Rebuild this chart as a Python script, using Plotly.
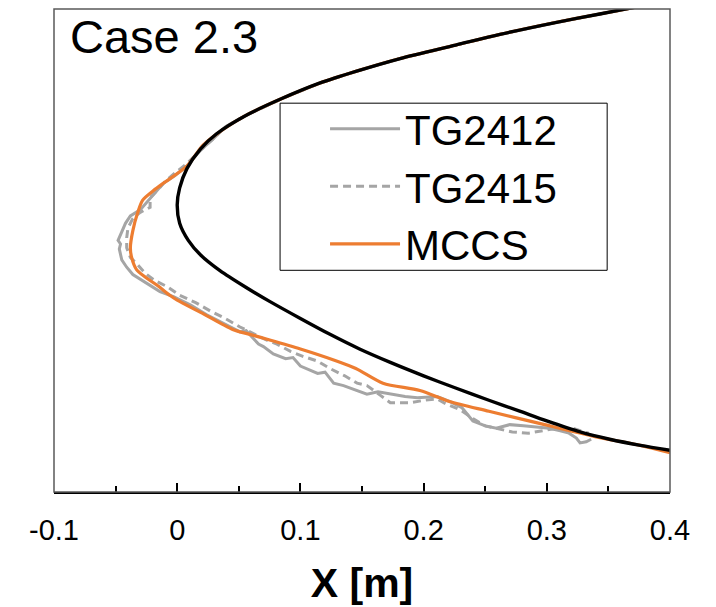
import plotly.graph_objects as go

# Black reference contour
body_x = [0.400, 0.375, 0.343, 0.307, 0.262, 0.226, 0.181, 0.145, 0.116, 0.084, 0.055,
          0.032, 0.019, 0.008, 0.002, 0.000, 0.002, 0.009, 0.019, 0.035, 0.055, 0.075,
          0.100, 0.124, 0.148, 0.173, 0.200, 0.226, 0.253, 0.278, 0.300, 0.327, 0.351,
          0.376, 0.400]
body_y = [0.1673, 0.1627, 0.1565, 0.1495, 0.1398, 0.1310, 0.1200, 0.1095, 0.1000, 0.0868, 0.0730,
          0.0584, 0.046, 0.030, 0.014, 0.000, -0.015, -0.029, -0.041, -0.054, -0.067, -0.079,
          -0.093, -0.106, -0.118, -0.129, -0.140, -0.150, -0.160, -0.169, -0.177, -0.186, -0.192,
          -0.197, -0.201]

# MCCS
mccs_x = [0.400, 0.375, 0.343, 0.307, 0.262, 0.226, 0.181, 0.145, 0.116, 0.084, 0.055,
          0.036, 0.021, 0.008, -0.011, -0.019, -0.028, -0.032, -0.036, -0.038, -0.037, -0.033,
          -0.026, -0.016, -0.006, 0.000, 0.019, 0.045, 0.059, 0.073, 0.100, 0.127, 0.145,
          0.167, 0.197, 0.221, 0.253, 0.294, 0.340, 0.376, 0.400]
mccs_y = [0.1673, 0.1627, 0.1565, 0.1495, 0.1398, 0.1310, 0.1200, 0.1095, 0.1000, 0.0868, 0.0730,
          0.061, 0.049, 0.032, 0.018, 0.012, 0.004, -0.006, -0.021, -0.035, -0.043, -0.053,
          -0.059, -0.066, -0.074, -0.078, -0.088, -0.102, -0.106, -0.110, -0.118, -0.127, -0.134,
          -0.146, -0.152, -0.161, -0.169, -0.179, -0.190, -0.197, -0.203]

# TG2412 (solid gray)
tg12_x = [0.400, 0.375, 0.343, 0.307, 0.262, 0.226, 0.181, 0.145, 0.116, 0.084, 0.055,
          0.039, 0.029, 0.019, 0.008, -0.002, -0.011,
          -0.018, -0.024, -0.030, -0.038, -0.042, -0.045, -0.048, -0.046, -0.047, -0.045, -0.041,
          -0.036, -0.028, -0.022, -0.014, -0.003, 0.011, 0.024, 0.039, 0.051, 0.056, 0.062, 0.066,
          0.070, 0.078, 0.088, 0.094, 0.100, 0.114, 0.120, 0.127, 0.135, 0.145, 0.154, 0.163,
          0.173, 0.185, 0.195, 0.211, 0.221, 0.231, 0.240, 0.250, 0.259, 0.270, 0.281, 0.292,
          0.302, 0.311, 0.318, 0.324, 0.327, 0.332, 0.336]
tg12_y = [0.1673, 0.1627, 0.1565, 0.1495, 0.1398, 0.1310, 0.1200, 0.1095, 0.1000, 0.0868, 0.0730,
          0.064, 0.054, 0.045, 0.032, 0.024, 0.018,
          0.010, 0.003, -0.004, -0.009, -0.015, -0.022, -0.029, -0.032, -0.036, -0.045, -0.051,
          -0.057, -0.062, -0.066, -0.071, -0.075, -0.082, -0.090, -0.098, -0.104, -0.103, -0.110, -0.114,
          -0.116, -0.122, -0.126, -0.125, -0.132, -0.138, -0.137, -0.146, -0.148, -0.152, -0.155, -0.153,
          -0.155, -0.157, -0.158, -0.157, -0.161, -0.166, -0.177, -0.181, -0.183, -0.180, -0.181, -0.182,
          -0.183, -0.185, -0.187, -0.191, -0.195, -0.194, -0.192]

# TG2415 (dashed gray)
tg15_x = [0.400, 0.375, 0.343, 0.307, 0.262, 0.226, 0.181, 0.145, 0.116, 0.084, 0.055,
          0.039, 0.029, 0.019, 0.008, -0.002, -0.010,
          -0.016, -0.022, -0.022, -0.030, -0.036, -0.040, -0.041, -0.041, -0.038, -0.032, -0.026,
          -0.018, -0.008, 0.002, 0.015, 0.027, 0.039, 0.051, 0.063, 0.071, 0.081, 0.092, 0.102,
          0.114, 0.124, 0.136, 0.146, 0.154, 0.165, 0.173, 0.181, 0.189, 0.201, 0.211, 0.218,
          0.230, 0.240, 0.250, 0.259, 0.272, 0.285, 0.298, 0.308, 0.321, 0.334]
tg15_y = [0.1673, 0.1627, 0.1565, 0.1495, 0.1398, 0.1310, 0.1200, 0.1095, 0.1000, 0.0868, 0.0730,
          0.064, 0.054, 0.045, 0.034, 0.026, 0.019,
          0.012, 0.006, -0.002, -0.006, -0.011, -0.019, -0.027, -0.035, -0.043, -0.049, -0.056,
          -0.062, -0.067, -0.074, -0.080, -0.087, -0.093, -0.100, -0.106, -0.110, -0.114, -0.120, -0.124,
          -0.128, -0.134, -0.140, -0.146, -0.148, -0.156, -0.162, -0.162, -0.162, -0.160, -0.159, -0.163,
          -0.168, -0.175, -0.181, -0.183, -0.186, -0.187, -0.185, -0.183, -0.183, -0.187]

x_ticks = [-0.1, 0, 0.1, 0.2, 0.3, 0.4]
x_tick_labels = ["-0.1", "0", "0.1", "0.2", "0.3", "0.4"]

FONT = "Arial, Liberation Sans, sans-serif"

fig = go.Figure()
fig.add_trace(go.Scatter(x=tg12_x, y=tg12_y, mode="lines", name="TG2412",
                         line=dict(color="#A5A5A5", width=3)))
fig.add_trace(go.Scatter(x=tg15_x, y=tg15_y, mode="lines", name="TG2415",
                         line=dict(color="#A5A5A5", width=3, dash="8px,5px")))
fig.add_trace(go.Scatter(x=mccs_x, y=mccs_y, mode="lines", name="MCCS",
                         line=dict(color="#ED7D31", width=3.2, shape="spline", smoothing=0.8)))
fig.add_trace(go.Scatter(x=body_x, y=body_y, mode="lines", name="Body", showlegend=False,
                         line=dict(color="#000000", width=3.4, shape="spline", smoothing=0.8)))

fig.update_layout(
    width=716, height=607,
    margin=dict(l=54, r=46, t=9, b=110),
    paper_bgcolor="white", plot_bgcolor="white",
    font=dict(family=FONT, color="black"),
    showlegend=True,
    legend=dict(x=0.440, y=0.822, xanchor="left", yanchor="top",
                borderwidth=0, bgcolor="rgba(0,0,0,0)",
                font=dict(size=42, family=FONT), itemwidth=70,
                tracegroupgap=0),
    xaxis=dict(range=[-0.1, 0.4], tickvals=x_ticks, ticktext=x_tick_labels,
               ticks="inside", ticklen=9, tickwidth=1.5, tickcolor="black",
               minor=dict(dtick=0.05, ticks="inside", ticklen=6, tickwidth=1.5, tickcolor="black"),
               showgrid=False, zeroline=False, showline=True, linecolor="black", linewidth=2,
               tickfont=dict(size=29, family=FONT), ticklabelstandoff=11,
               title=dict(text="<b>X [m]</b>", font=dict(size=41, family=FONT), standoff=24)),
    yaxis=dict(range=[-0.2352, 0.1606], showticklabels=False, ticks="",
               showgrid=False, zeroline=False, showline=False),
    annotations=[dict(text="Case 2.3", x=0.023, y=0.944, xref="paper", yref="paper",
                      xanchor="left", yanchor="middle", showarrow=False,
                      font=dict(size=47, family=FONT, color="black"))],
    shapes=[
        dict(type="rect", xref="paper", yref="paper", x0=0.367, y0=0.459, x1=0.898, y1=0.805,
             line=dict(color="#000000", width=1), fillcolor="white", layer="above"),
        dict(type="rect", xref="paper", yref="paper", x0=0, y0=0, x1=1, y1=1,
             line=dict(color="#595959", width=1.5), layer="above"),
    ],
)

fig.write_html("out.html")
